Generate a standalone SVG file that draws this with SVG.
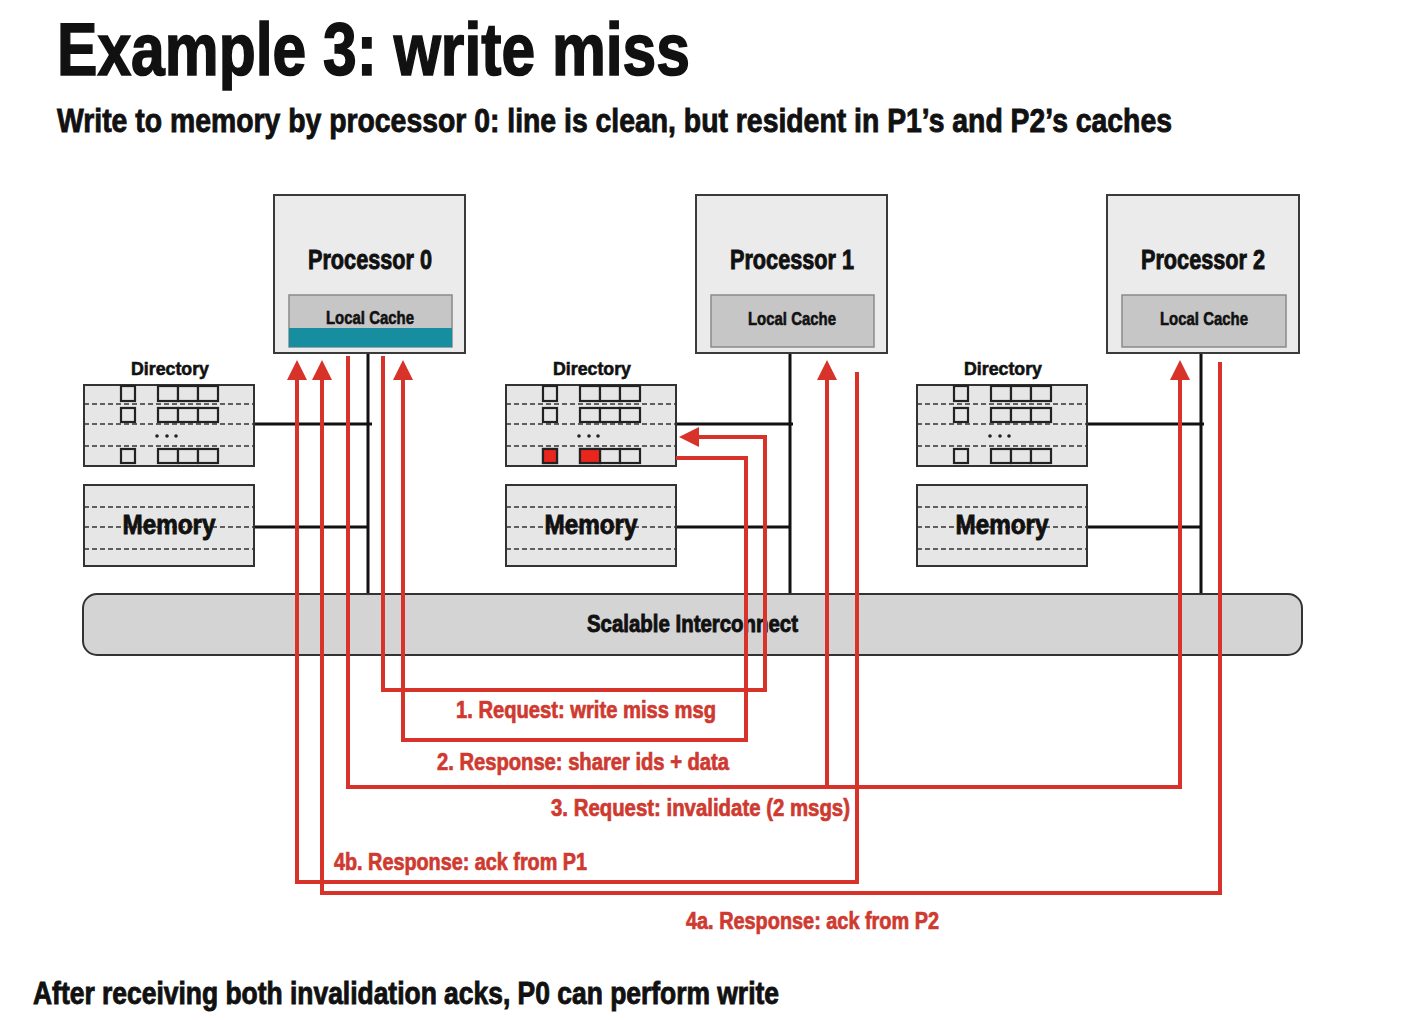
<svg xmlns="http://www.w3.org/2000/svg" xmlns:xlink="http://www.w3.org/1999/xlink" width="1412" height="1021" viewBox="0 0 1412 1021">
<style>
text{font-family:"Liberation Sans","Noto Sans",sans-serif;font-weight:bold;fill:#111;stroke:#111;stroke-width:0.6}
.big{stroke-width:1.6}
.mid{stroke-width:0.9}
.proc{fill:#ebebeb;stroke:#3a3a3a;stroke-width:2}
.cache{fill:#c6c6c6;stroke:#8a8a8a;stroke-width:1.5}
.box{fill:#e6e6e6;stroke:#333;stroke-width:2}
.dash{stroke:#333;stroke-width:1.6;stroke-dasharray:5 3;fill:none}
.sq{fill:#e6e6e6;stroke:#222;stroke-width:2.2}
.bus{stroke:#111;stroke-width:3;fill:none}
.red{stroke:#d8332a;stroke-width:4;fill:none;stroke-linejoin:miter}
.lbl{fill:#cf3a30;stroke:#cf3a30;stroke-width:0.7}
</style>
<defs>
<marker id="ah" markerUnits="userSpaceOnUse" markerWidth="20" markerHeight="20" refX="0" refY="10" orient="auto" viewBox="0 0 20 20">
<path d="M0,0 L20,10 L0,20 z" fill="#d8332a"/>
</marker>
<g id="dir">
<rect class="box" x="0" y="0" width="170" height="81"/>
<line class="dash" x1="0" y1="19" x2="170" y2="19"/>
<line class="dash" x1="0" y1="39" x2="170" y2="39"/>
<line class="dash" x1="0" y1="61" x2="170" y2="61"/>
<rect class="sq" x="37" y="1" width="14" height="15"/>
<rect class="sq" x="37" y="23" width="14" height="14"/>
<rect class="sq" x="74" y="1" width="20" height="15"/>
<rect class="sq" x="94" y="1" width="20" height="15"/>
<rect class="sq" x="114" y="1" width="20" height="15"/>
<rect class="sq" x="74" y="23" width="20" height="14"/>
<rect class="sq" x="94" y="23" width="20" height="14"/>
<rect class="sq" x="114" y="23" width="20" height="14"/>
<rect class="sq" x="37" y="64" width="14" height="14"/>
<rect class="sq" x="74" y="64" width="20" height="14"/>
<rect class="sq" x="94" y="64" width="20" height="14"/>
<rect class="sq" x="114" y="64" width="20" height="14"/>
<circle cx="73" cy="51" r="1.8" fill="#222"/>
<circle cx="83" cy="51" r="1.8" fill="#222"/>
<circle cx="92" cy="51" r="1.8" fill="#222"/>
</g>
<g id="mem">
<rect class="box" x="0" y="0" width="170" height="81"/>
<line class="dash" x1="0" y1="22" x2="170" y2="22"/>
<line class="dash" x1="0" y1="42" x2="170" y2="42"/>
<line class="dash" x1="0" y1="64" x2="170" y2="64"/>
<text class="mid" x="85" y="49" font-size="28" text-anchor="middle" textLength="93" lengthAdjust="spacingAndGlyphs">Memory</text>
</g>
</defs>
<rect width="1412" height="1021" fill="#ffffff"/>

<g id="title">
<text class="big" x="57" y="75" font-size="74" textLength="633" lengthAdjust="spacingAndGlyphs">Example 3: write miss</text>
<text class="mid" x="57" y="132" font-size="34" textLength="1115" lengthAdjust="spacingAndGlyphs">Write to memory by processor 0: line is clean, but resident in P1’s and P2’s caches</text>
</g>

<g id="buses">
<path class="bus" d="M368,353 V594 M253,424 H372 M253,527 H368"/>
<path class="bus" d="M790,353 V594 M675,424 H793 M675,527 H790"/>
<path class="bus" d="M1201,353 V594 M1086,424 H1204 M1086,527 H1201"/>
</g>

<g id="proc0">
<rect class="proc" x="274" y="195" width="191" height="158"/>
<text class="mid" x="370" y="269" font-size="27" text-anchor="middle" textLength="124" lengthAdjust="spacingAndGlyphs">Processor 0</text>
<rect class="cache" x="289" y="295" width="163" height="52"/>
<rect x="289" y="328" width="163" height="19" fill="#168ea0"/>
<text x="370" y="324" font-size="19" text-anchor="middle" textLength="88" lengthAdjust="spacingAndGlyphs">Local Cache</text>
</g>
<g id="proc1">
<rect class="proc" x="696" y="195" width="191" height="158"/>
<text class="mid" x="792" y="269" font-size="27" text-anchor="middle" textLength="124" lengthAdjust="spacingAndGlyphs">Processor 1</text>
<rect class="cache" x="711" y="295" width="163" height="52"/>
<text x="792" y="325" font-size="19" text-anchor="middle" textLength="88" lengthAdjust="spacingAndGlyphs">Local Cache</text>
</g>
<g id="proc2">
<rect class="proc" x="1107" y="195" width="192" height="158"/>
<text class="mid" x="1203" y="269" font-size="27" text-anchor="middle" textLength="124" lengthAdjust="spacingAndGlyphs">Processor 2</text>
<rect class="cache" x="1122" y="295" width="164" height="52"/>
<text x="1204" y="325" font-size="19" text-anchor="middle" textLength="88" lengthAdjust="spacingAndGlyphs">Local Cache</text>
</g>

<g id="dir0">
<text x="170" y="375" font-size="19" text-anchor="middle" textLength="78" lengthAdjust="spacingAndGlyphs">Directory</text>
<use xlink:href="#dir" href="#dir" x="84" y="385"/>
</g>
<g id="dir1">
<text x="592" y="375" font-size="19" text-anchor="middle" textLength="78" lengthAdjust="spacingAndGlyphs">Directory</text>
<use xlink:href="#dir" href="#dir" x="506" y="385"/>
<rect x="543" y="449" width="14" height="14" fill="#e8261e" stroke="#222" stroke-width="2.2"/>
<rect x="580" y="449" width="20" height="14" fill="#e8261e" stroke="#222" stroke-width="2.2"/>
</g>
<g id="dir2">
<text x="1003" y="375" font-size="19" text-anchor="middle" textLength="78" lengthAdjust="spacingAndGlyphs">Directory</text>
<use xlink:href="#dir" href="#dir" x="917" y="385"/>
</g>

<g id="mem0"><use xlink:href="#mem" href="#mem" x="84" y="485"/></g>
<g id="mem1"><use xlink:href="#mem" href="#mem" x="506" y="485"/></g>
<g id="mem2"><use xlink:href="#mem" href="#mem" x="917" y="485"/></g>

<g id="interconnect">
<rect x="83" y="594" width="1219" height="61" rx="14" ry="14" fill="#d4d4d4" stroke="#333" stroke-width="2"/>
<text class="mid" x="587" y="632" font-size="24" textLength="211" lengthAdjust="spacingAndGlyphs">Scalable Interconnect</text>
</g>

<g id="connectors">
<path class="red" d="M383,356 V690 H765 V437 H699" marker-end="url(#ah)"/>
<path class="red" d="M676,458 H746 V740 H403 V380" marker-end="url(#ah)"/>
<path class="red" d="M348,356 V787 H1180 V380" marker-end="url(#ah)"/>
<path class="red" d="M827,787 V380" marker-end="url(#ah)"/>
<path class="red" d="M857,372 V882 H297 V380" marker-end="url(#ah)"/>
<path class="red" d="M1220,362 V893 H322 V380" marker-end="url(#ah)"/>
<text class="lbl" x="456" y="718" font-size="23" textLength="260" lengthAdjust="spacingAndGlyphs">1. Request: write miss msg</text>
<text class="lbl" x="437" y="770" font-size="23" textLength="292" lengthAdjust="spacingAndGlyphs">2. Response: sharer ids + data</text>
<text class="lbl" x="551" y="816" font-size="23" textLength="299" lengthAdjust="spacingAndGlyphs">3. Request: invalidate (2 msgs)</text>
<text class="lbl" x="334" y="870" font-size="23" textLength="253" lengthAdjust="spacingAndGlyphs">4b. Response: ack from P1</text>
<text class="lbl" x="686" y="929" font-size="23" textLength="253" lengthAdjust="spacingAndGlyphs">4a. Response: ack from P2</text>
</g>

<g id="footer">
<text class="mid" x="33" y="1004" font-size="31" textLength="746" lengthAdjust="spacingAndGlyphs">After receiving both invalidation acks, P0 can perform write</text>
</g>
</svg>
